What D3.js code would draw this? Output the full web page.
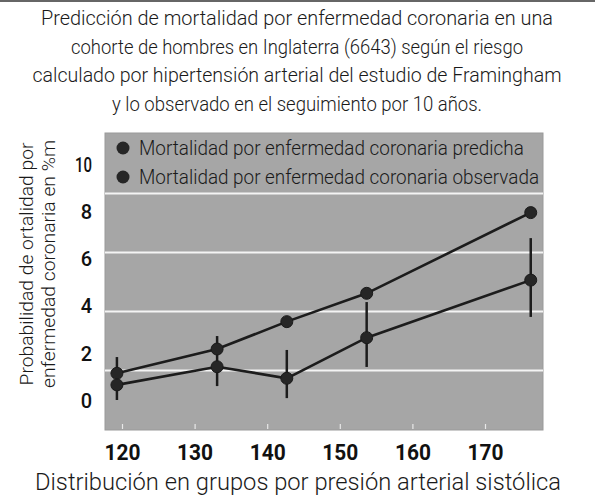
<!DOCTYPE html>
<html><head><meta charset="utf-8">
<script src="https://cdn.jsdelivr.net/npm/d3@7"></script>
<style>body{margin:0;background:#fff}svg{display:block}</style>
</head><body>
<script>
const titleLines = [
  "Predicción de mortalidad por enfermedad coronaria en una",
  "cohorte de hombres en Inglaterra (6643) según el riesgo",
  "calculado por hipertensión arterial del estudio de Framingham",
  "y lo observado en el seguimiento por 10 años."
];
const seriesNames = ["Mortalidad por enfermedad coronaria predicha", "Mortalidad por enfermedad coronaria observada"];
const xValues = [119.3, 133.1, 142.7, 153.7, 176.3];
const predicted = [1.13, 2.16, 3.32, 4.52, 7.94];
const observed = [0.64, 1.41, 0.92, 2.64, 5.08];
const errLow = [0.0, 0.59, 0.08, 1.4, 3.52];
const errHigh = [1.82, 2.71, 2.12, 4.15, 6.86];
const xTicks = [120, 130, 140, 150, 160, 170];
const yTicks = [0, 2, 4, 6, 8, 10];
const gridValues = [1.25, 3.75, 6.25, 8.75];
const yTitle = ["Probabilidad de ortalidad por", "enfermedad coronaria en %m"];
const xTitle = "Distribución en grupos por presión arterial sistólica";

const W = 595, H = 501;
const plot = {left: 105, right: 543, top: 133, bottom: 430};
const font = "'Roboto',sans-serif";

const svg = d3.select("body").append("svg").attr("width", W).attr("height", H);

// compress a selection of texts uniformly so that the widest one gets targetWidth
function condense(sel, targetWidth) {
  const widths = [];
  sel.each(function() { widths.push(this.getComputedTextLength()); });
  const k = targetWidth / d3.max(widths);
  sel.each(function(d, i) {
    d3.select(this).attr("textLength", widths[i] * k).attr("lengthAdjust", "spacingAndGlyphs");
  });
}

svg.append("rect").attr("x", 0).attr("y", 0).attr("width", W).attr("height", 2).attr("fill", "#666");

// title
const titleWidths = [512, 452, 529, 370];
svg.append("g").selectAll("text").data(titleLines).join("text")
  .attr("x", 297).attr("y", (d, i) => 25 + i * 28.7)
  .attr("text-anchor", "middle").attr("font-family", font).attr("font-weight", 300)
  .attr("font-size", 20).attr("fill", "#1a1a1a")
  .attr("textLength", (d, i) => titleWidths[i]).attr("lengthAdjust", "spacingAndGlyphs")
  .text(d => d);

const x = d3.scaleLinear().domain([120, 170]).range([122, 485]);
const y = d3.scaleLinear().domain([0, 10]).range([400, 164]);

// background
svg.append("rect").attr("x", plot.left).attr("y", plot.top)
  .attr("width", plot.right - plot.left).attr("height", plot.bottom - plot.top)
  .attr("fill", "#a6a6a6").attr("stroke", "#9a9a9a").attr("stroke-width", 1);

// gridlines
svg.append("g").selectAll("line").data(gridValues).join("line")
  .attr("x1", plot.left).attr("x2", plot.right)
  .attr("y1", d => y(d)).attr("y2", d => y(d))
  .attr("stroke", "#f4f4f4").attr("stroke-width", 2.2);

// x axis ticks
const xAxis = d3.axisBottom(x).tickValues(xTicks).tickSize(0).tickPadding(0);
const gx = svg.append("g").attr("transform", `translate(0,${plot.bottom})`).call(xAxis);
gx.select(".domain").remove();
gx.selectAll(".tick text").attr("y", 30).attr("dy", 0)
  .attr("font-family", "'Roboto',sans-serif").attr("font-weight", "bold")
  .attr("font-size", 22).attr("fill", "#111")
  .attr("textLength", 36).attr("lengthAdjust", "spacingAndGlyphs");
gx.selectAll(".tick").append("line").attr("y1", -6).attr("y2", -1)
  .attr("stroke", "#e8e8e8").attr("stroke-width", 1.2);

// y axis labels
const yAxis = d3.axisLeft(y).tickValues(yTicks).tickSize(0).tickPadding(0);
const gy = svg.append("g").attr("transform", `translate(92,0)`).call(yAxis);
gy.select(".domain").remove();
gy.selectAll(".tick text").attr("x", 0).attr("dy", "0.36em")
  .attr("font-family", "'Roboto',sans-serif").attr("font-weight", 500)
  .attr("font-size", 20).attr("fill", "#111")
  .each(function(d) { if (String(d).length > 1) d3.select(this).attr("textLength", 17).attr("lengthAdjust", "spacingAndGlyphs"); });

// y title
const yt = svg.append("g").selectAll("text").data(yTitle).join("text")
  .attr("transform", (d, i) => `translate(${33 + i * 22},264) rotate(-90)`)
  .attr("text-anchor", "middle").attr("font-family", font).attr("font-weight", 300)
  .attr("font-size", 19).attr("fill", "#1a1a1a")
  .text(d => d);
condense(yt, 248);

// x title
const xt = svg.append("text").attr("x", 298).attr("y", 490).attr("text-anchor", "middle")
  .attr("font-family", font).attr("font-weight", 300).attr("font-size", 24).attr("fill", "#1a1a1a")
  .text(xTitle);
condense(xt, 526);

// error bars (observed)
svg.append("g").selectAll("line").data(xValues).join("line")
  .attr("x1", d => x(d)).attr("x2", d => x(d))
  .attr("y1", (d, i) => y(errLow[i])).attr("y2", (d, i) => y(errHigh[i]))
  .attr("stroke", "#1c1c1c").attr("stroke-width", 2.5);

const line = d3.line().x(d => x(d[0])).y(d => y(d[1]));
[predicted, observed].forEach(vals => {
  const pts = xValues.map((v, i) => [v, vals[i]]);
  svg.append("path").datum(pts).attr("d", line)
    .attr("fill", "none").attr("stroke", "#1c1c1c").attr("stroke-width", 2.6);
  svg.append("g").selectAll("circle").data(pts).join("circle")
    .attr("cx", d => x(d[0])).attr("cy", d => y(d[1])).attr("r", 6)
    .attr("fill", "#262626").attr("stroke", "#1a1a1a").attr("stroke-width", 1);
});

// legend
const lg = svg.append("g").selectAll("g").data(seriesNames).join("g")
  .attr("transform", (d, i) => `translate(123,${148 + i * 29})`);
lg.append("circle").attr("r", 6.5).attr("fill", "#262626");
const lt = lg.append("text").attr("x", 16).attr("dy", "0.36em")
  .attr("font-family", font).attr("font-weight", 300).attr("font-size", 20).attr("fill", "#1a1a1a")
  .text(d => d);
condense(lt, 400);
</script>
</body></html>
